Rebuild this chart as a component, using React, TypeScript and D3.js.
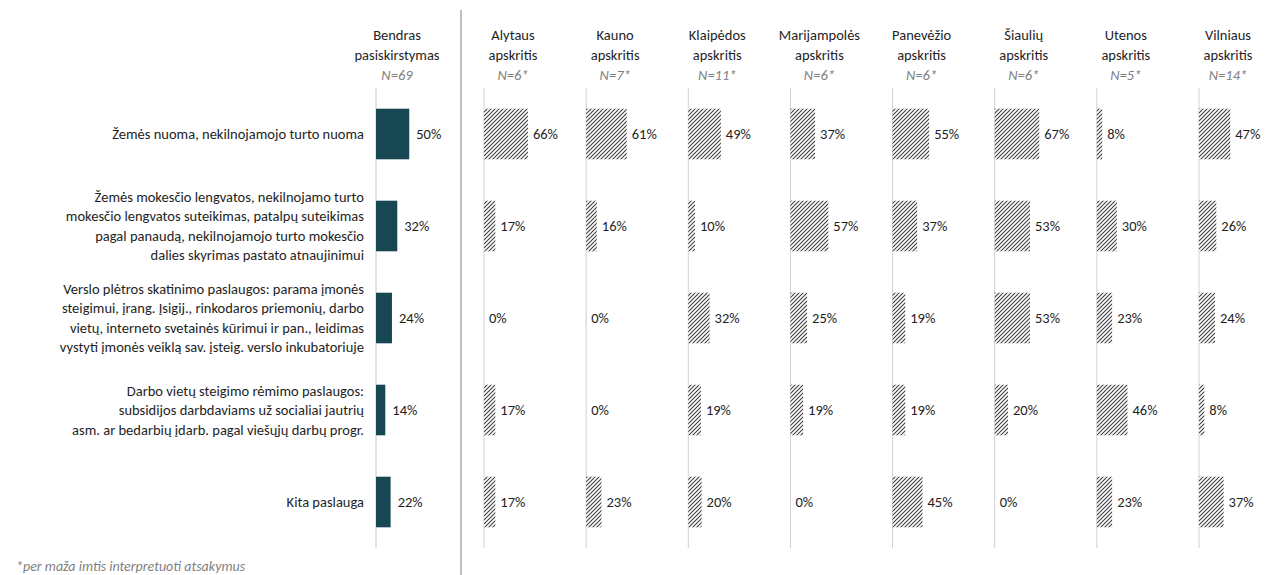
import React from "react";
import * as d3 from "d3";

const categories: string[][] = [
  ["Žemės nuoma, nekilnojamojo turto nuoma"],
  [
    "Žemės mokesčio lengvatos, nekilnojamo turto",
    "mokesčio lengvatos suteikimas, patalpų suteikimas",
    "pagal panaudą, nekilnojamojo turto mokesčio",
    "dalies skyrimas pastato atnaujinimui",
  ],
  [
    "Verslo plėtros skatinimo paslaugos: parama įmonės",
    "steigimui, įrang. Įsigij., rinkodaros priemonių, darbo",
    "vietų, interneto svetainės kūrimui ir pan., leidimas",
    "vystyti įmonės veiklą sav. įsteig. verslo inkubatoriuje",
  ],
  [
    "Darbo vietų steigimo rėmimo paslaugos:",
    "subsidijos darbdaviams už socialiai jautrių",
    "asm. ar bedarbių įdarb. pagal viešųjų darbų progr.",
  ],
  ["Kita paslauga"],
];

const overallTitle = ["Bendras", "pasiskirstymas"];
const overallN = "N=69";
const overallValues = [50, 32, 24, 14, 22];

const regionNames = [
  "Alytaus",
  "Kauno",
  "Klaipėdos",
  "Marijampolės",
  "Panevėžio",
  "Šiaulių",
  "Utenos",
  "Vilniaus",
];
const regionN = ["N=6*", "N=7*", "N=11*", "N=6*", "N=6*", "N=6*", "N=5*", "N=14*"];
const alytaus = [66, 17, 0, 17, 17];
const kauno = [61, 16, 0, 0, 23];
const klaipedos = [49, 10, 32, 19, 20];
const marijampoles = [37, 57, 25, 19, 0];
const panevezio = [55, 37, 19, 19, 45];
const siauliu = [67, 53, 53, 20, 0];
const utenos = [8, 30, 23, 46, 23];
const vilniaus = [47, 26, 24, 8, 37];
const regionValues = [alytaus, kauno, klaipedos, marijampoles, panevezio, siauliu, utenos, vilniaus];

const footnote = "*per maža imtis interpretuoti atsakymus";

const FONT = "Carlito, Calibri, 'Liberation Sans', Arial, sans-serif";
const FS = 14.5;

export default function App() {
  const W = 1273;
  const H = 575;
  const y = d3
    .scaleBand<number>()
    .domain(d3.range(categories.length))
    .range([88, 548])
    .paddingInner(0.45)
    .paddingOuter(0.225);
  const barW = d3.scaleLinear().domain([0, 100]).range([0, 66.5]);
  const mainAxisX = 376;
  const regionAxisX = d3
    .scaleLinear()
    .domain([0, regionNames.length - 1])
    .range([484, 1199]);

  const labelColor = "#1e1e1e";
  const mainColor = "#174753";

  const header = (cx: number, lines: string[], n: string, key: string) => (
    <g key={key}>
      {lines.map((l, i) => (
        <text key={i} x={cx} y={40 + i * 20} textAnchor="middle" fontSize={FS} fill={labelColor}>
          {l}
        </text>
      ))}
      <text x={cx} y={80} textAnchor="middle" fontSize={FS} fontStyle="italic" fill="#7f7f7f">
        {n}
      </text>
    </g>
  );

  return (
    <svg
      width={W}
      height={H}
      style={{ position: "absolute", left: 0, top: 0, fontFamily: FONT, background: "#fff" }}
    >
      <defs>
        <pattern id="hatch" patternUnits="userSpaceOnUse" width={4} height={4}>
          <rect width={4} height={4} fill="#fff" />
          <path d="M0,4 L4,0 M-1,1 L1,-1 M3,5 L5,3" stroke="#3a3a3a" strokeWidth={1.05} />
        </pattern>
      </defs>

      {/* Category labels */}
      {categories.map((lines, i) => {
        const cy = (y(i) as number) + y.bandwidth() / 2;
        const lh = 19.5;
        const start = cy - ((lines.length - 1) * lh) / 2;
        return (
          <text key={i} textAnchor="end" fontSize={FS} fill={labelColor}>
            {lines.map((l, j) => (
              <tspan key={j} x={364} y={start + j * lh} dy="0.35em">
                {l}
              </tspan>
            ))}
          </text>
        );
      })}

      {/* Overall panel */}
      {header(mainAxisX + 21, overallTitle, overallN, "mainh")}
      <line x1={mainAxisX} x2={mainAxisX} y1={88} y2={548} stroke="#c8c8c8" strokeWidth={1} />
      {overallValues.map((v, i) => {
        const by = y(i) as number;
        return (
          <g key={i}>
            <rect x={mainAxisX} y={by} width={barW(v)} height={y.bandwidth()} fill={mainColor} />
            <text
              x={mainAxisX + barW(v) + 7}
              y={by + y.bandwidth() / 2}
              dy="0.35em"
              fontSize={FS}
              fill={labelColor}
            >
              {v}%
            </text>
          </g>
        );
      })}

      {/* Divider */}
      <line x1={461} x2={461} y1={10} y2={575} stroke="#c0c0c0" strokeWidth={2} />

      {/* Region panels */}
      {regionNames.map((name, r) => {
        const ax = regionAxisX(r);
        return (
          <g key={name}>
            {header(ax + 29, [name, "apskritis"], regionN[r], "h" + r)}
            <line x1={ax} x2={ax} y1={88} y2={548} stroke="#d0d0d0" strokeWidth={1} />
            {regionValues[r].map((v, i) => {
              const by = y(i) as number;
              return (
                <g key={i}>
                  {v > 0 && (
                    <rect x={ax} y={by} width={barW(v)} height={y.bandwidth()} fill="url(#hatch)" />
                  )}
                  <text
                    x={ax + barW(v) + 5}
                    y={by + y.bandwidth() / 2}
                    dy="0.35em"
                    fontSize={FS}
                    fill={labelColor}
                  >
                    {v}%
                  </text>
                </g>
              );
            })}
          </g>
        );
      })}

      <text x={16} y={571} fontSize={14} fontStyle="italic" fill="#7f7f7f">
        {footnote}
      </text>
    </svg>
  );
}
